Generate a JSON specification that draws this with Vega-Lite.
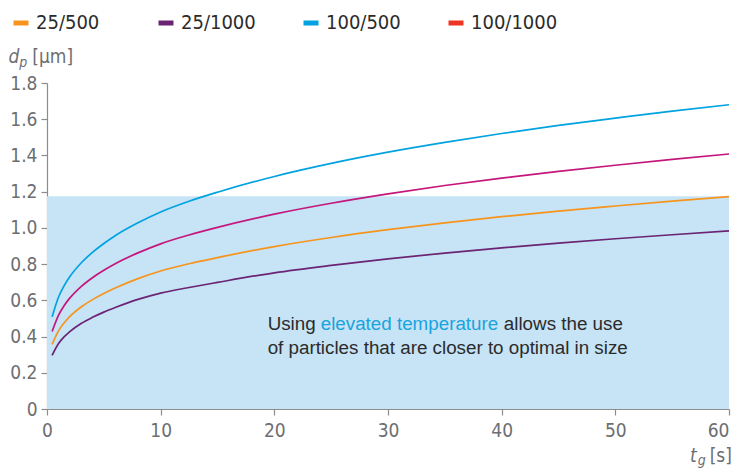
{
  "$schema": "https://vega.github.io/schema/vega-lite/v6.json",
  "width": 682,
  "height": 326,
  "autosize": {"type": "none"},
  "padding": {"left": 47, "top": 83, "right": 13, "bottom": 60},
  "background": "white",
  "config": {
    "view": {"stroke": null},
    "axis": {
      "domainColor": "#8c8c8c",
      "tickColor": "#8c8c8c",
      "tickSize": 6,
      "domainWidth": 1.2,
      "tickWidth": 1.2,
      "labelColor": "#6d6e71",
      "labelFont": "Liberation Sans Narrow, DejaVu Sans Condensed, Roboto, sans-serif",
      "labelFontSize": 19,
      "labelOverlap": false,
      "grid": false,
      "title": null
    }
  },
  "layer": [
    {
      "data": {"values": [{"t0": 0, "t1": 60, "v0": 0, "v1": 1.175}]},
      "mark": {"type": "rect", "color": "#c6e4f6"},
      "encoding": {
        "x": {"field": "t0", "type": "quantitative", "scale": {"domain": [0, 60], "nice": false},
          "axis": {"values": [0, 10, 20, 30, 40, 50, 60], "labelPadding": 6, "labelOverlap": false, "labelAlign": {"expr": "datum.value == 60 ? 'right' : 'center'"}}},
        "x2": {"field": "t1"},
        "y": {"field": "v0", "type": "quantitative", "scale": {"domain": [0, 1.8], "nice": false},
          "axis": {"values": [0, 0.2, 0.4, 0.6, 0.8, 1.0, 1.2, 1.4, 1.6, 1.8], "tickCount": 10, "labelPadding": 4, "labelOverlap": false, "labelExpr": "datum.value == 0 ? '0' : format(datum.value, '.1f')"}},
        "y2": {"field": "v1"}
      }
    },
    {
      "data": {"values": [
        {"key": "25/500", "t": -20, "dp": -1},
        {"key": "25/1000", "t": -20, "dp": -1},
        {"key": "100/500", "t": -20, "dp": -1},
        {"key": "100/1000", "t": -20, "dp": -1}
      ]},
      "mark": {"type": "line", "clip": true},
      "encoding": {
        "x": {"field": "t", "type": "quantitative"},
        "y": {"field": "dp", "type": "quantitative"},
        "color": {"field": "key", "type": "nominal",
          "scale": {"domain": ["25/500", "25/1000", "100/500", "100/1000"], "range": ["#f7941d", "#6b2473", "#00a3e0", "#ee3524"]},
          "sort": ["25/500", "25/1000", "100/500", "100/1000"],
          "legend": {
            "orient": "none",
            "legendX": -36,
            "legendY": -70,
            "direction": "horizontal",
            "gridAlign": "all",
            "padding": 0,
            "title": null,
            "symbolType": "stroke",
            "symbolSize": 225,
            "symbolStrokeWidth": 5,
            "symbolOpacity": 1,
            "labelFont": "Liberation Sans Narrow, DejaVu Sans Condensed, Roboto, sans-serif",
            "labelFontSize": 20,
            "labelColor": "#2b2b2b",
            "labelOffset": 5,
            "columnPadding": 25
          }}
      }
    },
    {
      "data": {"values": [
        {"series": "25/1000", "t": 0.45, "dp": 0.296}, {"series": "25/1000", "t": 1, "dp": 0.36}, {"series": "25/1000", "t": 1.5, "dp": 0.398}, {"series": "25/1000", "t": 2, "dp": 0.427}, {"series": "25/1000", "t": 3, "dp": 0.472}, {"series": "25/1000", "t": 4, "dp": 0.506}, {"series": "25/1000", "t": 5, "dp": 0.535}, {"series": "25/1000", "t": 6, "dp": 0.56}, {"series": "25/1000", "t": 8, "dp": 0.605}, {"series": "25/1000", "t": 10, "dp": 0.64}, {"series": "25/1000", "t": 12.5, "dp": 0.671}, {"series": "25/1000", "t": 15, "dp": 0.699}, {"series": "25/1000", "t": 20, "dp": 0.752}, {"series": "25/1000", "t": 25, "dp": 0.793}, {"series": "25/1000", "t": 30, "dp": 0.829}, {"series": "25/1000", "t": 35, "dp": 0.861}, {"series": "25/1000", "t": 40, "dp": 0.89}, {"series": "25/1000", "t": 45, "dp": 0.916}, {"series": "25/1000", "t": 50, "dp": 0.94}, {"series": "25/1000", "t": 55, "dp": 0.962}, {"series": "25/1000", "t": 60, "dp": 0.983},
        {"series": "25/500", "t": 0.45, "dp": 0.357}, {"series": "25/500", "t": 1, "dp": 0.43}, {"series": "25/500", "t": 1.5, "dp": 0.475}, {"series": "25/500", "t": 2, "dp": 0.51}, {"series": "25/500", "t": 3, "dp": 0.563}, {"series": "25/500", "t": 4, "dp": 0.604}, {"series": "25/500", "t": 5, "dp": 0.638}, {"series": "25/500", "t": 6, "dp": 0.668}, {"series": "25/500", "t": 8, "dp": 0.72}, {"series": "25/500", "t": 10, "dp": 0.762}, {"series": "25/500", "t": 12.5, "dp": 0.802}, {"series": "25/500", "t": 15, "dp": 0.836}, {"series": "25/500", "t": 20, "dp": 0.897}, {"series": "25/500", "t": 25, "dp": 0.947}, {"series": "25/500", "t": 30, "dp": 0.99}, {"series": "25/500", "t": 35, "dp": 1.028}, {"series": "25/500", "t": 40, "dp": 1.062}, {"series": "25/500", "t": 45, "dp": 1.093}, {"series": "25/500", "t": 50, "dp": 1.121}, {"series": "25/500", "t": 55, "dp": 1.148}, {"series": "25/500", "t": 60, "dp": 1.173},
        {"series": "100/1000", "t": 0.45, "dp": 0.428}, {"series": "100/1000", "t": 1, "dp": 0.516}, {"series": "100/1000", "t": 1.5, "dp": 0.57}, {"series": "100/1000", "t": 2, "dp": 0.612}, {"series": "100/1000", "t": 3, "dp": 0.676}, {"series": "100/1000", "t": 4, "dp": 0.725}, {"series": "100/1000", "t": 5, "dp": 0.766}, {"series": "100/1000", "t": 6, "dp": 0.802}, {"series": "100/1000", "t": 8, "dp": 0.862}, {"series": "100/1000", "t": 10, "dp": 0.912}, {"series": "100/1000", "t": 12.5, "dp": 0.961}, {"series": "100/1000", "t": 15, "dp": 1.003}, {"series": "100/1000", "t": 20, "dp": 1.076}, {"series": "100/1000", "t": 25, "dp": 1.136}, {"series": "100/1000", "t": 30, "dp": 1.188}, {"series": "100/1000", "t": 35, "dp": 1.234}, {"series": "100/1000", "t": 40, "dp": 1.275}, {"series": "100/1000", "t": 45, "dp": 1.312}, {"series": "100/1000", "t": 50, "dp": 1.346}, {"series": "100/1000", "t": 55, "dp": 1.378}, {"series": "100/1000", "t": 60, "dp": 1.408},
        {"series": "100/500", "t": 0.45, "dp": 0.509}, {"series": "100/500", "t": 1, "dp": 0.616}, {"series": "100/500", "t": 1.5, "dp": 0.68}, {"series": "100/500", "t": 2, "dp": 0.73}, {"series": "100/500", "t": 3, "dp": 0.806}, {"series": "100/500", "t": 4, "dp": 0.865}, {"series": "100/500", "t": 5, "dp": 0.914}, {"series": "100/500", "t": 6, "dp": 0.957}, {"series": "100/500", "t": 8, "dp": 1.028}, {"series": "100/500", "t": 10, "dp": 1.088}, {"series": "100/500", "t": 12.5, "dp": 1.147}, {"series": "100/500", "t": 15, "dp": 1.197}, {"series": "100/500", "t": 20, "dp": 1.284}, {"series": "100/500", "t": 25, "dp": 1.356}, {"series": "100/500", "t": 30, "dp": 1.418}, {"series": "100/500", "t": 35, "dp": 1.472}, {"series": "100/500", "t": 40, "dp": 1.521}, {"series": "100/500", "t": 45, "dp": 1.566}, {"series": "100/500", "t": 50, "dp": 1.606}, {"series": "100/500", "t": 55, "dp": 1.645}, {"series": "100/500", "t": 60, "dp": 1.68}
      ]},
      "mark": {"type": "line", "interpolate": "monotone", "strokeWidth": 1.7},
      "encoding": {
        "x": {"field": "t", "type": "quantitative"},
        "y": {"field": "dp", "type": "quantitative"},
        "detail": {"field": "series", "type": "nominal"},
        "stroke": {"field": "series", "type": "nominal", "legend": null,
          "scale": {"domain": ["25/500", "25/1000", "100/500", "100/1000"], "range": ["#f7941d", "#6b2473", "#00a3e0", "#c4167b"]}}
      }
    },
    {
      "data": {"values": [
        {"t": 19.41, "v": 0.4385, "txt": "Using"},
        {"t": 40.19, "v": 0.4385, "txt": "allows the use"},
        {"t": 19.41, "v": 0.303, "txt": "of particles that are closer to optimal in size"}
      ]},
      "mark": {"type": "text", "align": "left", "baseline": "alphabetic", "font": "Liberation Sans", "fontSize": 18.8, "color": "#2b2b2b"},
      "encoding": {
        "x": {"field": "t", "type": "quantitative"},
        "y": {"field": "v", "type": "quantitative"},
        "text": {"field": "txt"}
      }
    },
    {
      "data": {"values": [{"t": 24.08, "v": 0.4385, "txt": "elevated temperature"}]},
      "mark": {"type": "text", "align": "left", "baseline": "alphabetic", "font": "Liberation Sans", "fontSize": 18.8, "color": "#1aa3dd"},
      "encoding": {
        "x": {"field": "t", "type": "quantitative"},
        "y": {"field": "v", "type": "quantitative"},
        "text": {"field": "txt"}
      }
    },
    {
      "data": {"values": [{"t": -3.39, "v": 1.91, "txt": "d"}, {"t": 56.56, "v": -0.292, "txt": "t"}]},
      "mark": {"type": "text", "align": "left", "baseline": "alphabetic", "font": "Liberation Sans Narrow, DejaVu Sans Condensed, Roboto, sans-serif", "fontSize": 19, "fontStyle": "italic", "color": "#6d6e71", "clip": false},
      "encoding": {
        "x": {"field": "t", "type": "quantitative"},
        "y": {"field": "v", "type": "quantitative"},
        "text": {"field": "txt"}
      }
    },
    {
      "data": {"values": [{"t": -2.45, "v": 1.89, "txt": "p"}, {"t": 57.25, "v": -0.31, "txt": "g"}]},
      "mark": {"type": "text", "align": "left", "baseline": "alphabetic", "font": "Liberation Sans Narrow, DejaVu Sans Condensed, Roboto, sans-serif", "fontSize": 14, "fontStyle": "italic", "color": "#6d6e71", "clip": false},
      "encoding": {
        "x": {"field": "t", "type": "quantitative"},
        "y": {"field": "v", "type": "quantitative"},
        "text": {"field": "txt"}
      }
    },
    {
      "data": {"values": [{"t": -1.3, "v": 1.91, "txt": "[µm]"}, {"t": 58.3, "v": -0.292, "txt": "[s]"}]},
      "mark": {"type": "text", "align": "left", "baseline": "alphabetic", "font": "Liberation Sans Narrow, DejaVu Sans Condensed, Roboto, sans-serif", "fontSize": 19, "color": "#6d6e71", "clip": false},
      "encoding": {
        "x": {"field": "t", "type": "quantitative"},
        "y": {"field": "v", "type": "quantitative"},
        "text": {"field": "txt"}
      }
    }
  ]
}
